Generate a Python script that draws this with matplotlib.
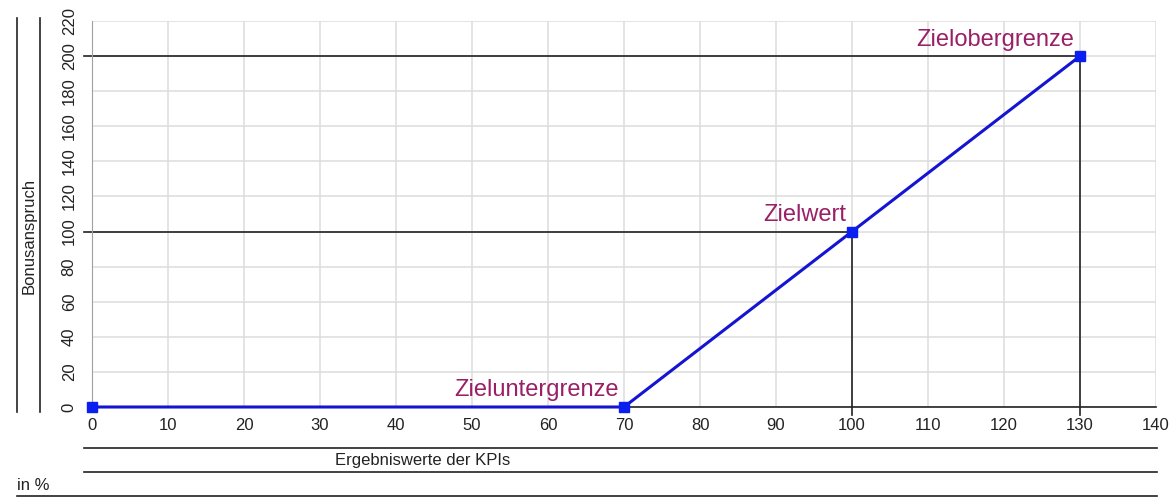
import matplotlib.pyplot as plt
from matplotlib.lines import Line2D

plt.rcParams['font.family'] = ['Liberation Sans', 'DejaVu Sans']

# data
kpi = [0, 70, 100, 130]
bonus = [0, 0, 100, 200]
point_labels = ['', 'Zieluntergrenze', 'Zielwert', 'Zielobergrenze']
x_ticks = list(range(0, 141, 10))
y_ticks = list(range(0, 221, 20))
ref_lines = [(100, 100), (130, 200)]

line_col = '#1414d2'
label_col = '#9a1f66'

fig = plt.figure(figsize=(11.75, 5.04), dpi=100)
ax = fig.add_axes([92 / 1175, 1 - 407 / 504, (1156 - 92) / 1175, (407 - 21) / 504])

ax.set_xlim(0, 140)
ax.set_ylim(0, 220)
ax.set_xticks(x_ticks)
ax.set_yticks(y_ticks)
ax.grid(True, color='#dcdcdc', lw=1.1)
ax.set_axisbelow(True)
for s in ['top', 'right']:
    ax.spines[s].set_visible(False)
ax.spines['left'].set_color('#a0a0a0')
ax.spines['bottom'].set_color('#222222')
ax.spines['bottom'].set_linewidth(1.2)
ax.tick_params(length=0, labelsize=12, colors='#222222')
ax.tick_params(axis='x', pad=8)
ax.tick_params(axis='y', pad=11)
for lab in ax.get_yticklabels():
    lab.set_rotation(90)
    lab.set_va('center')

# reference lines (horizontal from left, vertical down to axis)
for xv, yv in ref_lines:
    ax.plot([-1.05, xv], [yv, yv], color='#222222', lw=1.2, clip_on=False, zorder=2)
    ax.plot([xv, xv], [yv, -4.5], color='#222222', lw=1.2, clip_on=False, zorder=2)

ax.plot(kpi, bonus, color=line_col, lw=2.2, marker='s', ms=7,
        mfc='#0a1ef0', mec='#0a1ef0', clip_on=False, zorder=5)

for xv, yv, t in zip(kpi, bonus, point_labels):
    if t:
        ax.annotate(t, (xv, yv), xytext=(-4, 4), textcoords='offset points',
                    ha='right', va='bottom', fontsize=17, color=label_col)

# surrounding table-like lines and titles
def hline(y, x0, x1):
    fig.add_artist(Line2D([x0 / 1175, x1 / 1175], [1 - y / 504, 1 - y / 504],
                          color='#222222', lw=1.2))

def vline(x, y0, y1):
    fig.add_artist(Line2D([x / 1175, x / 1175], [1 - y0 / 504, 1 - y1 / 504],
                          color='#222222', lw=1.2))

hline(448, 84, 1157)
hline(472, 84, 1157)
hline(496, 17, 1157)
vline(17, 18, 412)
vline(40, 18, 412)

fig.text(335 / 1175, 1 - 460 / 504, 'Ergebniswerte der KPIs', fontsize=12,
         va='center', ha='left', color='#222222')
fig.text(17 / 1175, 1 - 485 / 504, 'in %', fontsize=12, va='center', ha='left',
         color='#222222')
fig.text(29 / 1175, 1 - 236 / 504, 'Bonusanspruch', fontsize=12, rotation=90,
         va='center', ha='center', color='#222222')

fig.savefig('out.png', dpi=100, facecolor='white')
